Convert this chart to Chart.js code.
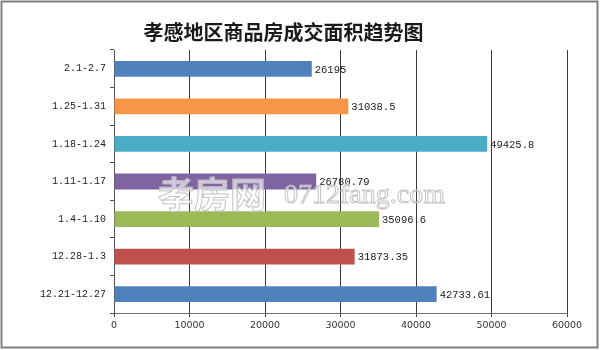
<!DOCTYPE html>
<html>
<head>
<meta charset="utf-8">
<script src="https://cdn.jsdelivr.net/npm/chart.js@4/dist/chart.umd.min.js"></script>
<style>
  html, body { margin: 0; padding: 0; background: #fff; }
  #wrap { width: 600px; height: 350px; position: relative; }
</style>
</head>
<body>
<div id="wrap"><canvas id="c" width="600" height="350"></canvas></div>
<script>
const titleText = '孝感地区商品房成交面积趋势图';
const categories = ['2.1-2.7', '1.25-1.31', '1.18-1.24', '1.11-1.17', '1.4-1.10', '12.28-1.3', '12.21-12.27'];
const areaValues = [26195, 31038.5, 49425.8, 26780.79, 35096.6, 31873.35, 42733.61];
const valueLabels = ['26195', '31038.5', '49425.8', '26780.79', '35096.6', '31873.35', '42733.61'];
const barColors = ['#4F81BD', '#F79646', '#4BACC6', '#8064A2', '#9BBB59', '#C0504D', '#4F81BD'];
const xMin = 0, xMax = 60000, xStep = 10000;

const frame = {
  id: 'frame',
  beforeDraw(chart) {
    const ctx = chart.ctx;
    ctx.save();
    ctx.fillStyle = '#fff';
    ctx.fillRect(0, 0, chart.width, chart.height);
    ctx.restore();
  },
  afterDraw(chart) {
    const ctx = chart.ctx;
    ctx.save();
    // watermark
    ctx.globalAlpha = 0.85;
    ctx.font = 'bold 36px "Noto Sans CJK SC"';
    ctx.textBaseline = 'middle';
    ctx.lineWidth = 1;
    ctx.strokeStyle = '#b8b8b8';
    ctx.fillStyle = 'rgba(255,255,255,0.75)';
    ctx.fillText('孝房网', 158, 194);
    ctx.strokeText('孝房网', 158, 194);
    ctx.font = '28px "Liberation Serif"';
    ctx.fillText('0712fang.com', 284, 196);
    ctx.strokeText('0712fang.com', 284, 196);
    ctx.globalAlpha = 1;
    // outer border
    ctx.strokeStyle = '#808080';
    ctx.lineWidth = 2;
    ctx.strokeRect(1.5, 1.5, 596, 346);
    ctx.restore();
  }
};

const labelsPlugin = {
  id: 'valLabels',
  afterDatasetsDraw(chart) {
    const ctx = chart.ctx;
    const meta = chart.getDatasetMeta(0);
    ctx.save();
    ctx.font = '10.5px "Liberation Mono"';
    ctx.fillStyle = '#1a1a1a';
    ctx.textBaseline = 'middle';
    ctx.textAlign = 'left';
    meta.data.forEach((bar, i) => {
      ctx.fillText(valueLabels[i], bar.x + 3, bar.y + 1);
    });
    ctx.restore();
  }
};

new Chart(document.getElementById('c'), {
  type: 'bar',
  data: {
    labels: categories,
    datasets: [{
      data: areaValues,
      backgroundColor: barColors,
      borderWidth: 0,
      categoryPercentage: 1,
      barPercentage: 0.42
    }]
  },
  options: {
    indexAxis: 'y',
    responsive: false,
    animation: false,
    devicePixelRatio: 1,
    layout: { padding: { top: 0, right: 33, bottom: 0, left: 0 } },
    plugins: {
      legend: { display: false },
      tooltip: { enabled: false },
      title: {
        display: true,
        text: titleText,
        color: '#1a1a1a',
        font: { family: '"Noto Sans CJK SC"', size: 20, weight: 'bold' },
        padding: { top: 20, bottom: 6 }
      }
    },
    scales: {
      x: {
        type: 'linear',
        min: xMin,
        max: xMax,
        ticks: {
          stepSize: xStep,
          color: '#333',
          font: { family: '"DejaVu Sans"', size: 9.5 },
          padding: 3,
          maxRotation: 0,
          callback: (v) => String(v)
        },
        grid: {
          color: '#3a3a3a',
          lineWidth: 1,
          drawTicks: true,
          tickLength: 4,
          tickColor: '#3a3a3a'
        },
        border: { display: true, color: '#707070', width: 1 },
        afterFit(scale) { scale.height = 37; }
      },
      y: {
        ticks: {
          color: '#222',
          font: { family: '"Liberation Mono"', size: 10 },
          padding: 4
        },
        grid: {
          offset: true,
          drawOnChartArea: false,
          drawTicks: true,
          tickLength: 4,
          color: '#555'
        },
        border: { display: true, color: '#555', width: 1 },
        afterFit(scale) { scale.width = 114; }
      }
    }
  },
  plugins: [frame, labelsPlugin]
});
</script>
</body>
</html>
